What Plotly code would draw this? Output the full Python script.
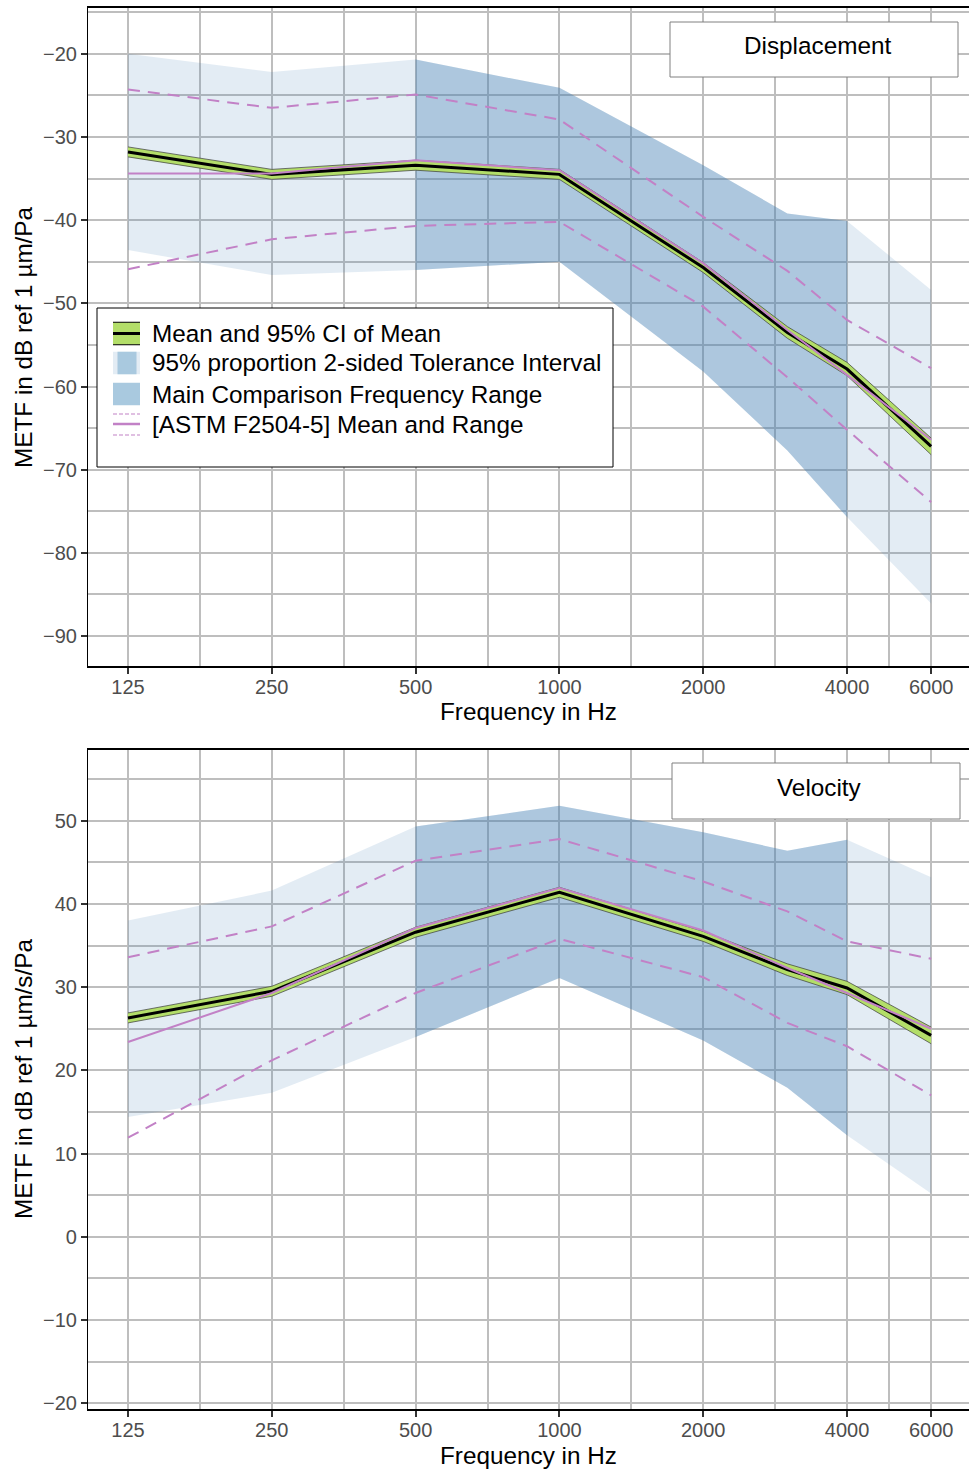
import plotly.graph_objects as go

W, H = 969, 1470

# ---------------- data ----------------
freq = [125, 250, 500, 1000, 2000, 3000, 4000, 6000]
tick_vals = [125, 250, 500, 1000, 2000, 4000, 6000]
tick_text = ["125", "250", "500", "1000", "2000", "4000", "6000"]
minor_vals = [176.8, 353.6, 707.1, 1414.2, 2828.4, 4899.0]
main_range = (500, 4000)

# Displacement panel
disp_mean = [-31.8, -34.5, -33.4, -34.5, -45.7, -53.5, -57.9, -67.2]
disp_ci_lo = [-32.4, -35.1, -34.0, -35.1, -46.3, -54.2, -58.7, -68.2]
disp_ci_hi = [-31.2, -33.9, -32.8, -33.9, -45.1, -52.8, -57.1, -66.2]
disp_tol_lo = [-43.6, -46.6, -46.0, -45.0, -58.2, -67.7, -75.7, -86.1]
disp_tol_hi = [-20.0, -22.2, -20.7, -24.1, -33.4, -39.2, -40.1, -48.4]
disp_astm_mean = [-34.4, -34.4, -32.8, -34.0, -45.2, -53.2, -58.6, -66.4]
disp_astm_hi = [-24.3, -26.5, -24.9, -27.9, -39.6, -46.1, -52.0, -57.8]
disp_astm_lo = [-45.9, -42.3, -40.7, -40.2, -50.4, -58.9, -65.2, -73.9]

# Velocity panel
vel_mean = [26.3, 29.5, 36.6, 41.4, 36.1, 32.1, 29.9, 24.2]
vel_ci_lo = [25.7, 28.9, 36.0, 40.8, 35.5, 31.4, 29.1, 23.2]
vel_ci_hi = [26.9, 30.1, 37.2, 42.0, 36.7, 32.8, 30.7, 25.2]
vel_tol_lo = [14.4, 17.3, 24.0, 31.1, 23.6, 17.9, 12.2, 5.2]
vel_tol_hi = [38.0, 41.6, 49.3, 51.8, 48.6, 46.4, 47.7, 43.2]
vel_astm_mean = [23.4, 29.3, 37.1, 41.9, 36.8, 32.3, 29.3, 25.0]
vel_astm_hi = [33.6, 37.3, 45.2, 47.8, 42.7, 39.1, 35.5, 33.4]
vel_astm_lo = [11.9, 21.2, 29.3, 35.8, 31.2, 25.7, 22.9, 17.0]

# ---------------- styles ----------------
FONT = "Liberation Sans, Arial, sans-serif"
TXT = 24.3
TICK = 20
C_TOL = "rgba(70,130,180,0.15)"
C_MAIN = "rgba(70,130,180,0.34)"
C_TOL_SOLID = "rgb(227,236,244)"
C_MAIN_SOLID = "rgb(169,201,223)"
C_GREEN = "#b3de69"
C_PURPLE = "#c281c6"
C_GRID = "#bebebe"
GW = 1.5
DASH = "12px,8px"

fig = go.Figure()


def add_panel(xa, ya, mean, ci_lo, ci_hi, tol_lo, tol_hi, a_mean, a_hi, a_lo):
    common = dict(xaxis=xa, yaxis=ya, showlegend=False, hoverinfo="skip")
    # tolerance band (full range)
    fig.add_trace(go.Scatter(x=freq, y=tol_lo, mode="lines", line=dict(width=0), **common))
    fig.add_trace(go.Scatter(x=freq, y=tol_hi, mode="lines", line=dict(width=0),
                             fill="tonexty", fillcolor=C_TOL, **common))
    # main comparison frequency range overlay
    idx = [i for i, f in enumerate(freq) if main_range[0] <= f <= main_range[1]]
    fx = [freq[i] for i in idx]
    fig.add_trace(go.Scatter(x=fx, y=[tol_lo[i] for i in idx], mode="lines",
                             line=dict(width=0), **common))
    fig.add_trace(go.Scatter(x=fx, y=[tol_hi[i] for i in idx], mode="lines",
                             line=dict(width=0), fill="tonexty", fillcolor=C_MAIN, **common))
    # ASTM range (dashed)
    fig.add_trace(go.Scatter(x=freq, y=a_hi, mode="lines",
                             line=dict(color=C_PURPLE, width=2, dash=DASH), **common))
    fig.add_trace(go.Scatter(x=freq, y=a_lo, mode="lines",
                             line=dict(color=C_PURPLE, width=2, dash=DASH), **common))
    # CI of mean
    fig.add_trace(go.Scatter(x=freq, y=ci_lo, mode="lines",
                             line=dict(color="#3a3a3a", width=0.7), **common))
    fig.add_trace(go.Scatter(x=freq, y=ci_hi, mode="lines",
                             line=dict(color="#3a3a3a", width=0.7),
                             fill="tonexty", fillcolor=C_GREEN, **common))
    # mean
    fig.add_trace(go.Scatter(x=freq, y=mean, mode="lines",
                             line=dict(color="black", width=3), **common))
    # ASTM mean
    fig.add_trace(go.Scatter(x=freq, y=a_mean, mode="lines",
                             line=dict(color=C_PURPLE, width=2), **common))


add_panel("x", "y", disp_mean, disp_ci_lo, disp_ci_hi, disp_tol_lo, disp_tol_hi,
          disp_astm_mean, disp_astm_hi, disp_astm_lo)
add_panel("x2", "y2", vel_mean, vel_ci_lo, vel_ci_hi, vel_tol_lo, vel_tol_hi,
          vel_astm_mean, vel_astm_hi, vel_astm_lo)


def px(x):
    return x / W


def py(y):
    return 1 - y / H


# panel geometry (pixels)
PLOT_L = 88
TOP_PANEL = (8, 666)
BOT_PANEL = (750, 1409)

xaxis_style = dict(
    type="log", range=[2.0132, 3.8574],
    tickmode="array", tickvals=tick_vals, ticktext=tick_text,
    showgrid=True, gridcolor=C_GRID, gridwidth=GW,
    minor=dict(tickmode="array", tickvals=minor_vals, showgrid=True,
               gridcolor=C_GRID, gridwidth=GW, ticks=""),
    showline=True, linecolor="black", linewidth=1.5, mirror=True,
    ticks="outside", ticklen=6, tickwidth=1.6, tickcolor="#333333",
    tickfont=dict(family=FONT, size=TICK, color="#4d4d4d"),
    ticklabelstandoff=-4,
    zeroline=False, automargin=False,
    domain=[px(PLOT_L), 1.0],
)
yaxis_style = dict(
    tickmode="linear", dtick=10, tick0=0,
    showgrid=True, gridcolor=C_GRID, gridwidth=GW,
    minor=dict(dtick=5, tick0=0, showgrid=True, gridcolor=C_GRID, gridwidth=GW, ticks=""),
    showline=True, linecolor="black", linewidth=1.2, mirror=False,
    ticks="outside", ticklen=6, tickwidth=1.6, tickcolor="#333333",
    tickfont=dict(family=FONT, size=TICK, color="#4d4d4d"),
    zeroline=False, automargin=False,
)

fig.update_layout(
    width=W, height=H,
    margin=dict(l=0, r=0, t=0, b=0),
    paper_bgcolor="white", plot_bgcolor="white",
    font=dict(family=FONT),
    xaxis=dict(xaxis_style, anchor="y"),
    yaxis=dict(yaxis_style, anchor="x", range=[-93.6, -14.5],
               domain=[py(TOP_PANEL[1]), py(TOP_PANEL[0])]),
    xaxis2=dict(xaxis_style, anchor="y2"),
    yaxis2=dict(yaxis_style, anchor="x2", range=[-20.7, 58.5],
                domain=[py(BOT_PANEL[1]), py(BOT_PANEL[0])]),
)

shapes = []
annotations = []

# axis titles
for (top, bot) in (TOP_PANEL, BOT_PANEL):
    annotations.append(dict(text="Frequency in Hz", x=px((PLOT_L + W) / 2), y=py(bot + 46),
                            xref="paper", yref="paper", showarrow=False,
                            font=dict(family=FONT, size=TXT, color="black"),
                            xanchor="center", yanchor="middle"))
annotations.append(dict(text="METF in dB ref 1 µm/Pa", x=px(23), y=py(337),
                        xref="paper", yref="paper", showarrow=False, textangle=-90,
                        font=dict(family=FONT, size=TXT, color="black"),
                        xanchor="center", yanchor="middle"))
annotations.append(dict(text="METF in dB ref 1 µm/s/Pa", x=px(23), y=py(1079),
                        xref="paper", yref="paper", showarrow=False, textangle=-90,
                        font=dict(family=FONT, size=TXT, color="black"),
                        xanchor="center", yanchor="middle"))

# info boxes
for (x0, y0, x1, y1, label) in ((670, 22, 958, 77, "Displacement"),
                                (672, 763, 960, 819, "Velocity")):
    shapes.append(dict(type="rect", xref="paper", yref="paper",
                       x0=px(x0), x1=px(x1), y0=py(y1), y1=py(y0),
                       fillcolor="white", line=dict(color="#808080", width=1)))
    annotations.append(dict(text=label, x=px((x0 + x1) / 2 + 3), y=py((y0 + y1) / 2 - 4),
                            xref="paper", yref="paper", showarrow=False,
                            font=dict(family=FONT, size=TXT, color="black"),
                            xanchor="center", yanchor="middle"))

# legend (manual keys)
LEG = dict(x0=97, y0=308, x1=613, y1=467, key_x0=113, key_x1=140, text_x=150,
           rows=[333.5, 363, 394, 424], key_h=22.5)
shapes.append(dict(type="rect", xref="paper", yref="paper",
                   x0=px(LEG["x0"]), x1=px(LEG["x1"]), y0=py(LEG["y1"]), y1=py(LEG["y0"]),
                   fillcolor="white", line=dict(color="black", width=1)))
kx0, kx1, kh = LEG["key_x0"], LEG["key_x1"], LEG["key_h"]
r = LEG["rows"]


def rect(x0, y0, x1, y1, fill):
    shapes.append(dict(type="rect", xref="paper", yref="paper", x0=px(x0), x1=px(x1),
                       y0=py(y1), y1=py(y0), fillcolor=fill, line=dict(width=0)))


def hline(x0, x1, y, color, width, dash="solid"):
    shapes.append(dict(type="line", xref="paper", yref="paper", x0=px(x0), x1=px(x1),
                       y0=py(y), y1=py(y), line=dict(color=color, width=width, dash=dash)))


# key 1: mean and CI
rect(kx0, r[0] - kh / 2, kx1, r[0] + kh / 2, C_GREEN)
hline(kx0, kx1, r[0] - kh / 2, "black", 1)
hline(kx0, kx1, r[0] + kh / 2, "black", 1)
hline(kx0, kx1, r[0], "black", 3)
# key 2: tolerance interval
rect(kx0, r[1] - kh / 2, kx1, r[1] + kh / 2, C_TOL_SOLID)
rect(kx0 + 4.5, r[1] - kh / 2, kx1 - 3.5, r[1] + kh / 2, C_MAIN_SOLID)
# key 3: main comparison range
rect(kx0, r[2] - kh / 2, kx1, r[2] + kh / 2, C_MAIN_SOLID)
# key 4: ASTM
hline(kx0, kx1, r[3] - 10, C_PURPLE, 1.2, "4px,2px")
hline(kx0, kx1, r[3], C_PURPLE, 2.5)
hline(kx0, kx1, r[3] + 11, C_PURPLE, 1.2, "4px,2px")

labels = ["Mean and 95% CI of Mean",
          "95% proportion 2-sided Tolerance Interval",
          "Main Comparison Frequency Range",
          "[ASTM F2504-5] Mean and Range"]
for yy, lab in zip(r, labels):
    annotations.append(dict(text=lab, x=px(LEG["text_x"]), y=py(yy), xref="paper", yref="paper",
                            showarrow=False, xanchor="left", yanchor="middle",
                            font=dict(family=FONT, size=TXT, color="black")))

fig.update_layout(shapes=shapes, annotations=annotations)

fig.write_html("out.html")
